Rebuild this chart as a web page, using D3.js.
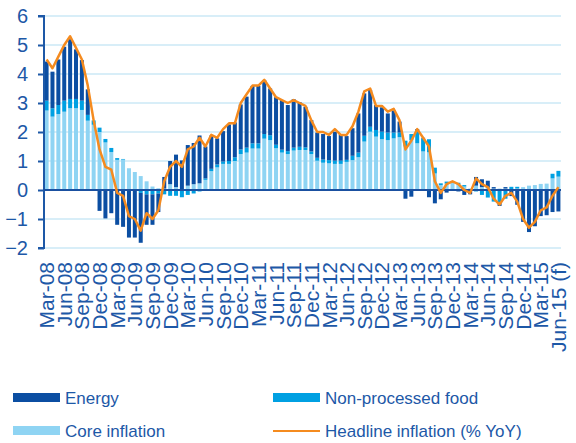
<!DOCTYPE html>
<html>
<head>
<meta charset="utf-8">
<script src="https://cdn.jsdelivr.net/npm/d3@7"></script>
<style>
  body { margin: 0; background: #fff; }
  svg { display: block; font-family: "Liberation Sans", Arial, sans-serif; }
</style>
</head>
<body>
<div id="chart"></div>
<script>
// Monthly contributions (pp) to headline inflation, Mar-08 .. Jun-15 (f)
const monthNames = ["Jan", "Feb", "Mar", "Apr", "May", "Jun", "Jul", "Aug", "Sep", "Oct", "Nov", "Dec"];
const months = d3.range(88).map(i => {
    const m = (i + 2) % 12;
    const y = 8 + Math.floor((i + 2) / 12);
    return monthNames[m] + "-" + String(y).padStart(2, "0");
});

const core = [
    2.74, 2.53, 2.62, 2.70, 2.82, 2.82, 2.76, 2.39, 2.25, 2.00,
    1.64, 1.31, 1.04, 1.05, 0.75, 0.62, 0.48, 0.30, 0.12, 0.06,
    0.05, 0.20, 0.10, 0.00, 0.15, 0.20, 0.23, 0.35, 0.65, 0.78,
    0.90, 0.90, 1.00, 1.24, 1.29, 1.43, 1.43, 1.77, 1.72, 1.44,
    1.29, 1.24, 1.36, 1.38, 1.38, 1.24, 1.01, 0.94, 0.92, 0.90,
    0.90, 0.97, 1.03, 1.13, 1.67, 2.01, 1.84, 1.75, 1.72, 1.78,
    1.82, 1.50, 1.72, 1.61, 1.33, 1.30, 0.57, 0.17, 0.22, 0.25,
    0.20, 0.12, 0.05, 0.15, 0.10, 0.08, 0.05, 0.05, 0.05, 0.03,
    0.05, 0.10, 0.15, 0.17, 0.21, 0.22, 0.40, 0.46
];
const food = [
    0.34, 0.29, 0.31, 0.38, 0.32, 0.32, 0.32, 0.20, 0.15, 0.15,
    0.12, 0.14, 0.06, 0.02, 0.00, -0.02, -0.10, -0.15, -0.15, -0.12,
    -0.15, -0.20, -0.20, -0.25, -0.17, -0.12, -0.05, 0.05, 0.08, 0.10,
    0.08, 0.10, 0.13, 0.16, 0.17, 0.18, 0.18, 0.16, 0.17, 0.12,
    0.10, 0.10, 0.10, 0.11, 0.09, 0.09, 0.10, 0.11, 0.11, 0.11,
    0.11, 0.07, 0.15, 0.16, 0.20, 0.17, 0.23, 0.26, 0.26, 0.20,
    0.16, 0.20, 0.21, 0.45, 0.45, 0.45, 0.20, 0.06, 0.07, 0.06,
    0.05, 0.05, -0.05, -0.05, -0.17, -0.26, -0.40, -0.45, -0.30, 0.08,
    0.06, 0.00, 0.00, 0.00, 0.00, 0.00, 0.16, 0.20
];
const energy = [
    1.35, 1.26, 1.57, 1.86, 2.06, 1.71, 1.40, 0.88, 0.00, -0.72,
    -0.98, -0.80, -1.20, -1.27, -1.64, -1.62, -1.72, -1.05, -1.05, -0.64,
    0.40, 0.80, 1.12, 1.02, 1.40, 1.42, 1.65, 1.10, 1.15, 0.90,
    1.05, 1.26, 1.20, 1.55, 1.76, 1.98, 1.98, 1.86, 1.61, 1.64,
    1.71, 1.59, 1.67, 1.54, 1.40, 1.08, 0.87, 0.88, 0.83, 1.00,
    0.91, 0.82, 0.95, 1.35, 1.46, 1.27, 0.86, 0.84, 0.66, 0.76,
    0.38, -0.30, -0.23, 0.04, 0.02, -0.25, -0.46, -0.32, -0.09, 0.00,
    -0.05, -0.17, -0.10, 0.30, 0.27, 0.24, 0.05, -0.10, 0.05, -0.21,
    -0.51, -1.10, -1.45, -1.25, -0.90, -0.87, -0.76, -0.74
];
const headline = [
    4.5, 4.2, 4.6, 5.0, 5.3, 4.9, 4.5, 3.6, 2.4, 1.4,
    0.8, 0.7, -0.1, -0.2, -0.9, -1.0, -1.4, -0.8, -1.0, -0.7,
    0.3, 0.8, 1.0, 0.8, 1.4, 1.5, 1.8, 1.5, 1.9, 1.8,
    2.1, 2.3, 2.3, 3.0, 3.3, 3.6, 3.6, 3.8, 3.5, 3.2,
    3.1, 3.0, 3.1, 3.0, 2.9, 2.4, 2.0, 2.0, 1.9, 2.1,
    1.9, 1.9, 2.2, 2.7, 3.4, 3.5, 2.9, 2.9, 2.7, 2.8,
    2.4, 1.4, 1.7, 2.1, 1.8, 1.5, 0.3, -0.1, 0.2, 0.3,
    0.2, 0.0, -0.1, 0.4, 0.2, 0.1, -0.3, -0.5, -0.2, -0.1,
    -0.4, -1.0, -1.3, -1.1, -0.7, -0.6, -0.2, 0.1
];
const yTicks = [-2, -1, 0, 1, 2, 3, 4, 5, 6];

const seriesKeys = ["core", "food", "energy"];
const colors = { energy: "#0b4ea2", food: "#00a0e2", core: "#8fd4f3" };
const textColor = "#1d58a7";
const lineColor = "#f58b1f";

const width = 576;
const height = 443;
const margin = { left: 44, right: 15, top: 16, bottom: 195 };

const table = months.map((m, i) => ({
    month: m, core: core[i], food: food[i], energy: energy[i], headline: headline[i]
}));

const svg = d3.select("#chart")
    .append("svg")
    .attr("width", width)
    .attr("height", height);

const x = d3.scaleBand()
    .domain(months)
    .range([margin.left, width - margin.right])
    .paddingInner(0.32)
    .paddingOuter(0.1);

const y = d3.scaleLinear()
    .domain([-2, 6])
    .range([height - margin.bottom, margin.top]);

// Gridlines
svg.append("g")
    .selectAll("line")
    .data(yTicks)
    .enter().append("line")
    .attr("x1", margin.left)
    .attr("x2", width - margin.right)
    .attr("y1", d => y(d))
    .attr("y2", d => y(d))
    .attr("stroke", "#cbe8f6")
    .attr("stroke-width", 1.5);

// Stacked bars
const stack = d3.stack()
    .keys(seriesKeys)
    .offset(d3.stackOffsetDiverging);

svg.append("g")
    .selectAll("g")
    .data(stack(table))
    .enter().append("g")
    .attr("fill", d => colors[d.key])
    .selectAll("rect")
    .data(d => d)
    .enter().append("rect")
    .attr("x", d => x(d.data.month))
    .attr("width", x.bandwidth())
    .attr("y", d => y(Math.max(d[0], d[1])))
    .attr("height", d => Math.abs(y(d[0]) - y(d[1])));

// Y axis
const yAxis = d3.axisLeft(y)
    .tickValues(yTicks)
    .tickSize(6)
    .tickPadding(10)
    .tickFormat(d3.format("d"));

const yAxisG = svg.append("g")
    .attr("transform", `translate(${margin.left},0)`)
    .call(yAxis);
yAxisG.select(".domain")
    .attr("d", `M-6,${y(6)}H0V${y(-2)}H-6`)
    .attr("stroke", textColor)
    .attr("stroke-width", 2);
yAxisG.selectAll(".tick line")
    .attr("stroke", textColor)
    .attr("stroke-width", 2);
yAxisG.selectAll(".tick text")
    .attr("fill", textColor)
    .attr("font-size", 20);

// Zero line
svg.append("line")
    .attr("x1", margin.left)
    .attr("x2", width - margin.right)
    .attr("y1", y(0))
    .attr("y2", y(0))
    .attr("stroke", "#1a50a0")
    .attr("stroke-width", 2);

// Headline inflation line
const line = d3.line()
    .x(d => x(d.month) + x.bandwidth() / 2)
    .y(d => y(d.headline));

svg.append("path")
    .datum(table)
    .attr("d", line)
    .attr("fill", "none")
    .attr("stroke", lineColor)
    .attr("stroke-width", 2.5)
    .attr("stroke-linejoin", "round");

// X labels, every quarter
const labelMonths = months.filter((m, i) => i % 3 === 0);
svg.append("g")
    .selectAll("text")
    .data(labelMonths)
    .enter().append("text")
    .attr("transform", d => `translate(${x(d) + x.bandwidth() / 2},${height - margin.bottom + 14}) rotate(-90)`)
    .attr("text-anchor", "end")
    .attr("dy", "0.36em")
    .attr("fill", textColor)
    .attr("font-size", 21)
    .text(d => d === "Jun-15" ? "Jun-15 (f)" : d);

// Legend
const legendItems = [
    { label: "Energy", key: "energy", type: "bar", x: 13, y: 398 },
    { label: "Non-processed food", key: "food", type: "bar", x: 273, y: 398 },
    { label: "Core inflation", key: "core", type: "bar", x: 13, y: 431 },
    { label: "Headline inflation (% YoY)", key: "headline", type: "line", x: 273, y: 431 }
];

const legend = svg.append("g");
legendItems.forEach(item => {
    if (item.type === "bar") {
        legend.append("rect")
            .attr("x", item.x)
            .attr("y", item.y - 5)
            .attr("width", 47)
            .attr("height", 9)
            .attr("fill", colors[item.key]);
    } else {
        legend.append("line")
            .attr("x1", item.x)
            .attr("x2", item.x + 47)
            .attr("y1", item.y)
            .attr("y2", item.y)
            .attr("stroke", lineColor)
            .attr("stroke-width", 2);
    }
    legend.append("text")
        .attr("x", item.x + 52)
        .attr("y", item.y)
        .attr("dy", "0.35em")
        .attr("fill", textColor)
        .attr("font-size", 17)
        .text(item.label);
});
</script>
</body>
</html>
